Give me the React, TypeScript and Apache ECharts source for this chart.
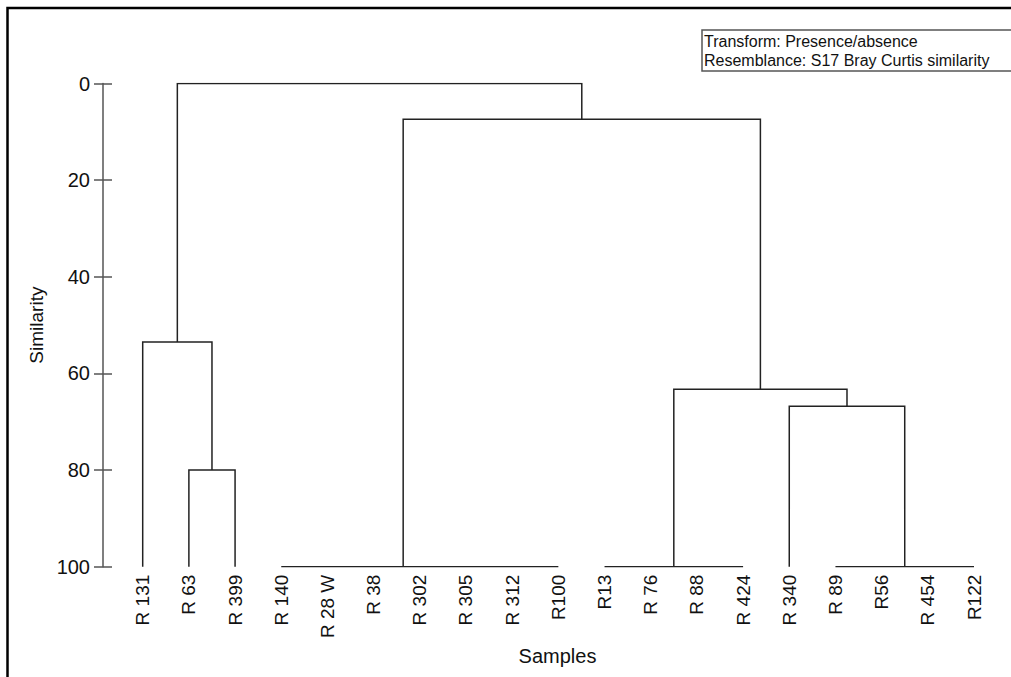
import React, { useEffect, useRef } from 'react';
import * as echarts from 'echarts';

// Leaves in dendrogram order
const leaves = ['R 131', 'R 63', 'R 399', 'R 140', 'R 28 W', 'R 38', 'R 302', 'R 305', 'R 312', 'R100', 'R13', 'R 76', 'R 88', 'R 424', 'R 340', 'R 89', 'R56', 'R 454', 'R122'];

// Groups of samples tied at similarity 100
const groupNames = ['G1', 'G2', 'G3'];
const groupFirst = [3, 10, 15];
const groupLast = [9, 13, 18];
const groupJoint = [5.64, 11.5, 16.5];

// Binary merges (in order of construction)
const mergeNames = ['A', 'B', 'D', 'C', 'E', 'Root'];
const mergeLeft = ['R 63', 'R 131', 'R 340', 'G2', 'G1', 'B'];
const mergeRight = ['R 399', 'A', 'G3', 'D', 'C', 'E'];
const mergeSimilarity = [80, 53.5, 66.8, 63.3, 7.4, 0];

const yTicks = [0, 20, 40, 60, 80, 100];
const noteLines = ['Transform: Presence/absence', 'Resemblance: S17 Bray Curtis similarity'];

const FONT = '"Liberation Sans", Arial, Helvetica, sans-serif';

function buildLines() {
  const pos: Record<string, [number, number]> = {};
  leaves.forEach((n, i) => (pos[n] = [i, 100]));
  const segs: any[] = [];
  groupNames.forEach((g, i) => {
    pos[g] = [groupJoint[i], 100];
    segs.push({ coords: [[groupFirst[i], 100], [groupLast[i], 100]] });
  });
  mergeNames.forEach((m, i) => {
    const l = pos[mergeLeft[i]];
    const r = pos[mergeRight[i]];
    const h = mergeSimilarity[i];
    pos[m] = [(l[0] + r[0]) / 2, h];
    segs.push({ coords: [[l[0], l[1]], [l[0], h], [r[0], h], [r[0], r[1]]] });
  });
  return segs;
}

export default function App() {
  const ref = useRef<HTMLDivElement>(null);
  useEffect(() => {
    if (!ref.current) return;
    const chart = echarts.init(ref.current, null, { renderer: 'svg' });
    const unit = (974 - 142.7) / 18;
    const left = 103;
    const rightEdge = 1012;
    const xMin = -(142.7 - left) / unit;
    const xMax = 18 + (rightEdge - 974) / unit;
    const yAxisBase = {
      type: 'value',
      inverse: true,
      min: yTicks[0],
      max: yTicks[yTicks.length - 1],
      interval: 20,
      position: 'left',
      splitLine: { show: false },
    };
    chart.setOption({
      animation: false,
      backgroundColor: '#ffffff',
      grid: {
        left: left,
        right: 1011 - rightEdge,
        top: 83.5,
        bottom: 677 - 566.7,
        containLabel: false,
        outerBoundsMode: 'none',
      },
      xAxis: {
        type: 'value',
        min: xMin,
        max: xMax,
        axisLine: { show: false, onZero: false },
        axisTick: { show: false },
        splitLine: { show: false },
        name: 'Samples',
        nameLocation: 'middle',
        nameGap: 79,
        nameTextStyle: { fontFamily: FONT, fontSize: 20, color: '#111', verticalAlign: 'top' },
        axisLabel: {
          customValues: leaves.map((_, i) => i),
          formatter: (v: number) => leaves[Math.round(v)] ?? '',
          rotate: 90,
          margin: 8,
          fontFamily: FONT,
          fontSize: 19,
          color: '#111',
        },
      },
      yAxis: [
        {
          ...yAxisBase,
          name: 'Similarity',
          nameLocation: 'middle',
          nameGap: 55,
          nameRotate: 90,
          nameTextStyle: { fontFamily: FONT, fontSize: 19, color: '#111' },
          axisLine: { show: true, onZero: false, lineStyle: { color: '#555', width: 1.5 } },
          axisTick: { show: true, length: 9, lineStyle: { color: '#555', width: 1.5 } },
          axisLabel: { fontFamily: FONT, fontSize: 20, color: '#111', margin: 13 },
        },
        {
          ...yAxisBase,
          axisLine: { show: false, onZero: false },
          axisTick: { show: true, inside: true, length: 9, lineStyle: { color: '#555', width: 1.5 } },
          axisLabel: { show: false },
        },
      ],
      series: [
        {
          type: 'lines',
          coordinateSystem: 'cartesian2d',
          xAxisIndex: 0,
          yAxisIndex: 0,
          polyline: true,
          silent: true,
          lineStyle: { color: '#222', width: 1.5, opacity: 1 },
          data: buildLines(),
        },
      ],
      graphic: [
        {
          type: 'rect',
          shape: { x: 7.5, y: 8, width: 1200, height: 1000 },
          style: { fill: 'none', stroke: '#000', lineWidth: 2.5 },
          silent: true,
        },
        {
          type: 'rect',
          shape: { x: 702, y: 30, width: 400, height: 41 },
          style: { fill: '#fff', stroke: '#555', lineWidth: 1.5 },
          silent: true,
        },
        ...noteLines.map((t, i) => ({
          type: 'text',
          x: 704,
          y: 33 + i * 19.5,
          style: { text: t, fontFamily: FONT, fontSize: 16, fill: '#111', textVerticalAlign: 'top' },
          silent: true,
        })),
      ],
    });
    return () => chart.dispose();
  }, []);
  return (
    <div
      ref={ref}
      style={{ position: 'absolute', left: 0, top: 0, width: 1011, height: 677, background: '#fff' }}
    />
  );
}
